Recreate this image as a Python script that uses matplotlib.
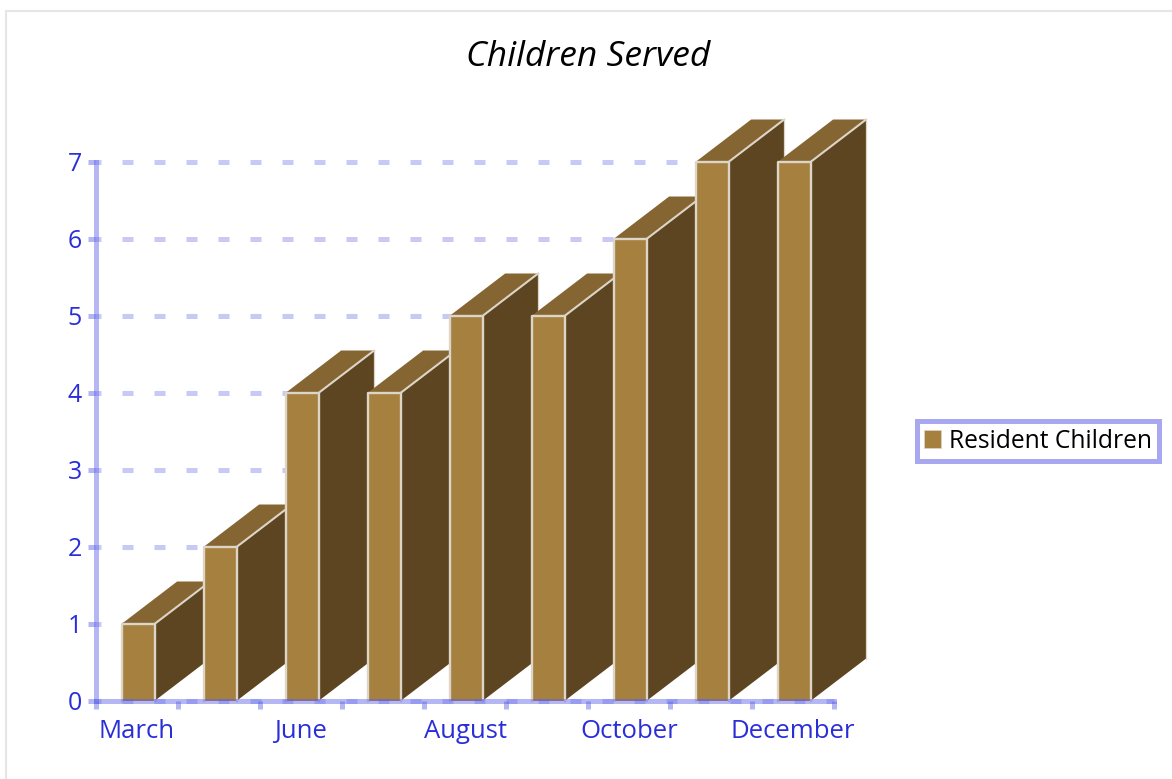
import matplotlib
matplotlib.use("Agg")
import matplotlib.pyplot as plt
from matplotlib.patches import Patch, Polygon, Rectangle

months = ["March", "May", "June", "July", "August", "September", "October", "November", "December"]
resident_children = [1, 2, 4, 4, 5, 5, 6, 7, 7]
y_ticks = [0, 1, 2, 3, 4, 5, 6, 7]

W, H = 1172, 779
FRONT = "#A5803F"
SIDE = "#5C4520"
TOP = "#856632"
EDGE = "#DDD5C8"
AXIS = "#B3B6F2"
TEXT = "#2A2ED8"
FONT = "Open Sans"

fig = plt.figure(figsize=(W / 100, H / 100), dpi=100)
fig.patches.append(Rectangle((6 / W, -0.01), 1.01, 1 - 11 / H + 0.01, transform=fig.transFigure,
                             fill=False, ec="#E6E6E6", lw=1.5))

# plot area runs from x=96 to 834 px, y=161 (value 7) to 700 px (value 0)
ax = fig.add_axes([96 / W, 1 - 700.5 / H, 738 / W, 539 / H])
ax.set_xlim(0, len(months))
ax.set_ylim(0, 7)
ax.patch.set_alpha(0)

# grid
for v in y_ticks[1:]:
    ax.axhline(v, color="#C8CAF5", lw=3.6, zorder=1, linestyle=(1.2, (2.2, 4.2)),
               dash_capstyle="butt", clip_on=False)
# the zero line is dashed too and lies over the axis and the bars
ax.axhline(0, color="#5A60E8", alpha=0.3, lw=3.6, zorder=6, linestyle=(1.2, (2.2, 4.2)),
           dash_capstyle="butt", clip_on=False)

# 3d bars
bar_w = 33 / 82
depth_x = 55 / 82
depth_y = 42 / 77
for i, v in enumerate(resident_children):
    z = 2 + i * 0.01
    x0 = i + 0.52 - bar_w / 2
    x1 = x0 + bar_w
    ax.add_patch(Polygon([(x1, 0), (x1 + depth_x, depth_y), (x1 + depth_x, v + depth_y), (x1, v)],
                         fc=SIDE, ec="none", zorder=z, clip_on=False))
    ax.add_patch(Polygon([(x0, v), (x0 + depth_x, v + depth_y), (x1 + depth_x, v + depth_y), (x1, v)],
                         fc=TOP, ec="none", zorder=z, clip_on=False))
    # faint outer edge, stronger slant line between top and side
    ax.plot([x1 + depth_x, x1 + depth_x], [depth_y, v + depth_y], color=EDGE, lw=0.9, zorder=z, clip_on=False)
    ax.plot([x1, x1 + depth_x], [v, v + depth_y], color=EDGE, lw=1.5, zorder=z, clip_on=False)
    ax.plot([x0, x0, x1, x1], [0, v, v, 0], color=EDGE, lw=1.7, zorder=z + 0.002, clip_on=False)
    ax.bar(x0 + bar_w / 2, v, bar_w, color=FRONT, zorder=z + 0.001, clip_on=False)

# axes lines sit on top of the bars, the blue tints them a bit
for s in ["top", "right"]:
    ax.spines[s].set_visible(False)
for s in ["left", "bottom"]:
    ax.spines[s].set_color("#5A60E8")
    ax.spines[s].set_alpha(0.45)
    ax.spines[s].set_linewidth(3.6)
    ax.spines[s].set_zorder(5)

ax.set_yticks(y_ticks)
ax.set_yticklabels(y_ticks)
ax.set_xticks(range(len(months) + 1))
ax.set_xticklabels([])
ax.set_xticks([i + 0.5 for i in range(0, len(months), 2)], months[::2], minor=True)
ax.tick_params(axis="both", which="major", color=AXIS, width=3.6, length=5.5)
ax.tick_params(axis="x", which="minor", length=0, pad=13, labelsize=18.5, labelcolor=TEXT)
ax.tick_params(axis="y", which="major", labelsize=18, labelcolor=TEXT, pad=4.5)
for lab in ax.get_xticklabels(minor=True) + ax.get_yticklabels():
    lab.set_fontfamily(FONT)

fig.text(588 / W, 1 - 57 / H, "Children Served", ha="center", va="center", style="italic",
         fontsize=25.5, family=FONT, color="black")

leg = fig.legend(handles=[Patch(fc=FRONT, ec=EDGE, lw=0.5, label="Resident Children")],
                 loc="center", bbox_to_anchor=(1038 / W, 1 - 441 / H),
                 prop={"family": FONT, "size": 17.7}, fancybox=False, framealpha=1,
                 edgecolor="#A8A8F0", borderpad=0.3, handlelength=0.7, handleheight=0.7,
                 handletextpad=0.3, borderaxespad=0)
leg.get_frame().set_linewidth(3.6)

fig.savefig("out.png", dpi=100)
